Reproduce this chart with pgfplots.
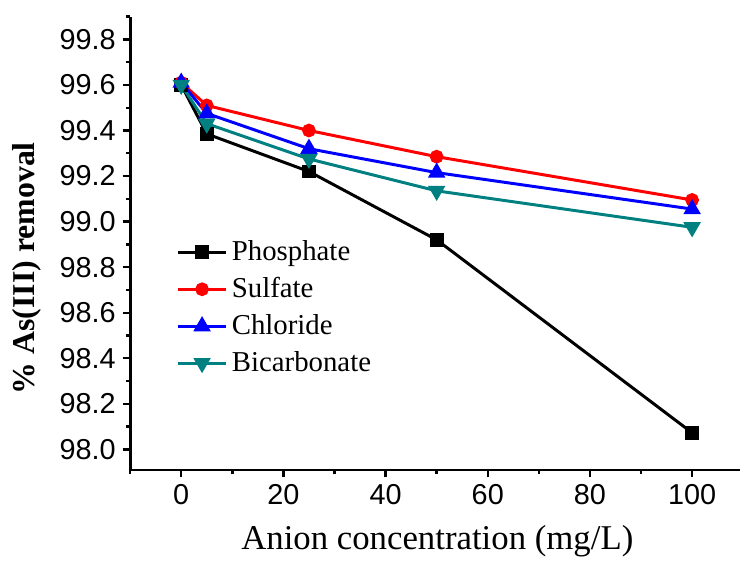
\documentclass[border=0pt]{standalone}
\usepackage{fontspec}
\setmainfont{Liberation Serif}
\newfontfamily\arial{Liberation Sans}
\usepackage{pgfplots}
\pgfplotsset{compat=1.18}
\definecolor{teal2}{RGB}{0,128,128}
\begin{document}
\begin{tikzpicture}
\begin{axis}[
  scale only axis,
  width=306.75bp, height=228.15bp,
  xmin=-10, xmax=109.3,
  ymin=97.91, ymax=99.9,
  axis x line=bottom, axis y line=left,
  axis line style={-, line width=1.4bp},
  tick align=outside,
  major tick length=3.8bp, minor tick length=2.2bp,
  tick style={line width=1.2bp, black},
  xtick={0,20,40,60,80,100},
  minor xtick={-10,10,30,50,70,90},
  ytick={98.0,98.2,98.4,98.6,98.8,99.0,99.2,99.4,99.6,99.8},
  minor ytick={97.9,98.1,98.3,98.5,98.7,98.9,99.1,99.3,99.5,99.7,99.9},
  /pgf/number format/assume math mode=true,
  ticklabel style={font=\arial\fontsize{14.5bp}{16bp}\selectfont},
  yticklabel style={/pgf/number format/.cd, fixed, fixed zerofill, precision=1},
  xticklabel style={/pgf/number format/.cd, fixed, precision=0},
  xlabel={Anion concentration (mg/L)},
  xlabel style={font=\fontsize{17.5bp}{20bp}\selectfont, at={(axis description cs:0.504,-0.158)}, anchor=center},
  ylabel={\textbf{\% As(III) removal}},
  ylabel style={font=\fontsize{16bp}{18bp}\selectfont, at={(axis description cs:-0.17,0.445)}, anchor=center, rotate=0},
  legend style={draw=none, fill=none, at={(axis description cs:0.075,0.515)}, anchor=north west,
    font=\fontsize{14.5bp}{16bp}\selectfont, row sep=3bp, inner sep=0pt,
    legend cell align=left},
  legend image code/.code={\draw[mark repeat=2,mark phase=2] plot coordinates {(0bp,0bp)(12.25bp,0bp)(24.5bp,0bp)};},
  every axis plot/.append style={line width=1.5bp},
]
\addplot[black, mark=square*, mark size=2.7bp] coordinates {(0,99.60) (5,99.385) (25,99.22) (50,98.92) (100,98.073)};
\addlegendentry{Phosphate}
\addplot[red, mark=*, mark size=2.7bp] coordinates {(0,99.61) (5,99.51) (25,99.40) (50,99.285) (100,99.095)};
\addlegendentry{Sulfate}
\addplot[blue, mark=triangle*, mark size=3.6bp] coordinates {(0,99.61) (5,99.475) (25,99.32) (50,99.215) (100,99.055)};
\addlegendentry{Chloride}
\addplot[teal2, mark=triangle*, mark options={rotate=180}, mark size=3.6bp] coordinates {(0,99.60) (5,99.43) (25,99.275) (50,99.135) (100,98.975)};
\addlegendentry{Bicarbonate}
\end{axis}
\path ([yshift=8.35bp]current axis.north west);
\path ([xshift=-65.5bp,yshift=-45bp]current axis.south west);
\end{tikzpicture}
\end{document}
